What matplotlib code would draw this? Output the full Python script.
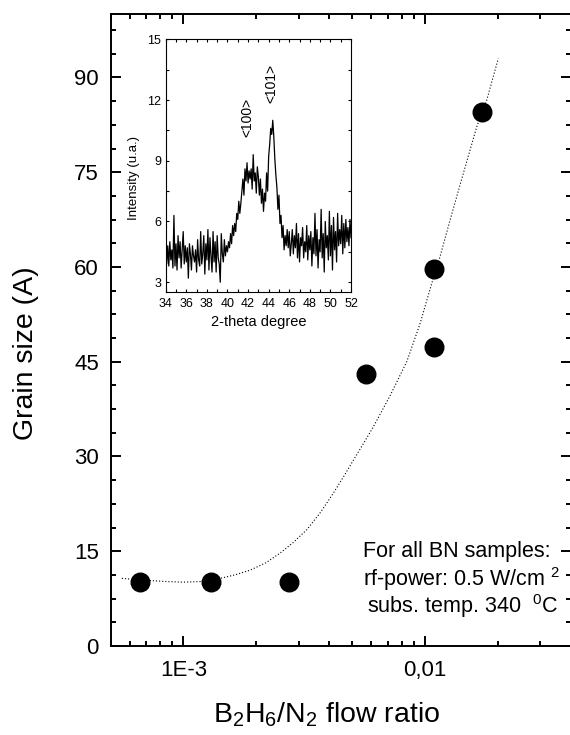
import numpy as np
import matplotlib
matplotlib.use('Agg')
import matplotlib.pyplot as plt
from matplotlib.ticker import FixedLocator, FixedFormatter, LogLocator, NullFormatter, MultipleLocator

plt.rcParams['font.family'] = ['Liberation Sans', 'DejaVu Sans']
plt.rcParams['mathtext.fontset'] = 'custom'
plt.rcParams['mathtext.rm'] = 'Liberation Sans'
plt.rcParams['mathtext.it'] = 'Liberation Sans'
plt.rcParams['mathtext.default'] = 'regular'

# grain size vs flow ratio
ratio = [6.58e-4, 1.30e-3, 2.73e-3, 5.70e-3, 1.093e-2, 1.093e-2, 1.726e-2]
grain = [10.1, 10.1, 10.1, 43.0, 59.6, 47.3, 84.6]

# dotted fit line
fit_x = [5.56e-4, 7.0e-4, 8.53e-4, 1.0e-3, 1.172e-3, 1.418e-3, 1.65e-3, 1.888e-3, 2.2e-3,
         2.512e-3, 2.85e-3, 3.24e-3, 3.7e-3, 4.174e-3, 4.6e-3, 5.05e-3, 5.55e-3, 6.11e-3,
         7.16e-3, 8.40e-3, 9.53e-3, 1.066e-2, 1.153e-2, 1.269e-2, 1.440e-2, 1.637e-2,
         1.800e-2, 2.010e-2]
fit_y = [10.7, 10.4, 10.2, 10.1, 10.2, 10.7, 11.3, 12.0, 13.2,
         14.7, 16.4, 18.4, 21.2, 24.2, 26.8, 29.4, 32.0, 34.7,
         39.6, 45.0, 51.0, 57.4, 61.6, 67.4, 74.8, 82.2,
         86.4, 93.0]

# inset XRD spectrum, 34..52 deg step 0.1
theta = np.round(np.arange(34.0, 52.01, 0.1), 1)
intensity = [
    5.7, 3.9, 4.8, 3.8, 5.0, 4.1, 4.6, 3.7, 6.3, 3.8,
    4.9, 3.6, 5.3, 4.2, 5.0, 3.7, 4.6, 5.5, 3.9, 4.8,
    4.0, 4.7, 3.2, 4.9, 4.4, 3.6, 4.8, 4.3, 4.0, 4.6,
    3.5, 5.1, 4.1, 3.8, 5.5, 3.9, 4.4, 5.3, 3.4, 4.9,
    4.1, 5.6, 3.6, 5.2, 4.3, 3.5, 5.5, 4.0, 5.0, 3.5,
    5.3, 4.2, 3.9, 3.0, 5.4, 4.4, 4.0, 5.1, 4.3, 4.8,
    4.5, 5.0, 4.7, 5.4, 4.9, 5.8, 5.3, 5.9, 5.5, 6.4,
    6.1, 7.0, 6.4, 6.9, 7.5, 8.1, 7.3, 8.6, 8.0, 8.9,
    7.9, 8.5, 8.1, 8.6, 7.6, 9.3, 8.0, 8.4, 7.4, 8.7,
    8.2, 7.3, 8.1, 6.9, 7.6, 6.5, 7.4, 7.0, 8.4, 7.5,
    9.2, 9.8, 10.6, 10.3, 11.0, 10.2, 9.1, 8.3, 7.7, 6.6,
    7.3, 5.9, 6.3, 5.2, 5.8, 4.6, 5.3, 4.8, 5.6, 4.7,
    5.5, 4.3, 4.9, 5.6, 4.4, 5.3, 4.7, 5.9, 4.2, 5.4,
    4.0, 5.2, 4.8, 5.7, 4.2, 5.0, 4.5, 5.8, 4.1, 5.3,
    4.6, 5.5, 3.8, 5.2, 4.4, 6.4, 4.3, 5.6, 3.7, 5.1,
    4.5, 6.6, 4.2, 5.4, 3.5, 6.0, 4.7, 5.3, 4.1, 6.5,
    4.3, 5.8, 3.6, 6.2, 4.6, 5.5, 4.0, 6.4, 4.8, 5.6,
    4.9, 6.3, 4.4, 5.9, 4.7, 6.1, 5.0, 5.7, 4.8, 6.1,
    5.2]

fig = plt.figure(figsize=(5.7, 7.35), dpi=100)
ax = fig.add_axes([0.1942, 0.1211, 0.8067, 0.8595])

ax.plot(fit_x, fit_y, color='black', lw=0.8, linestyle=(0, (1, 1.8)), zorder=2)
ax.plot(ratio, grain, 'o', color='black', ms=13.4, zorder=3)

ax.set_xscale('log')
ax.set_xlim(5e-4, 0.04)
ax.set_ylim(0, 100)
ax.xaxis.set_major_locator(FixedLocator([1e-3, 1e-2]))
ax.xaxis.set_major_formatter(FixedFormatter(['1E-3', '0,01']))
ax.xaxis.set_minor_locator(LogLocator(base=10, subs=np.arange(2, 10), numticks=20))
ax.xaxis.set_minor_formatter(NullFormatter())
ax.yaxis.set_major_locator(MultipleLocator(15))
ax.yaxis.set_minor_locator(MultipleLocator(3.75))

for s in ax.spines.values():
    s.set_linewidth(1.4)
ax.spines['right'].set_visible(False)
ax.tick_params(which='both', direction='in', top=True, right=True, width=1.4)
ax.tick_params(which='major', length=7.2, labelsize=16)
ax.tick_params(which='minor', length=3.6)
ax.tick_params(axis='x', which='major', pad=10)
ax.tick_params(axis='y', which='major', pad=8.5)

ax.set_xlabel('B$_2$H$_6$/N$_2$ flow ratio', fontsize=20.5)
ax.xaxis.label.set_va('baseline')
ax.xaxis.set_label_coords(0.469, -0.1214)
ax.set_ylabel('Grain size (A)', fontsize=20.5)
ax.yaxis.set_label_coords(-0.155, 0.463)

def px(x, y):
    # figure pixel -> axes fraction
    return ((x - 110.7) / 459.8, (646 - y) / 631.7)

ax.text(*px(363, 557.3), 'For all BN samples:', fontsize=15.5, transform=ax.transAxes)
ax.text(*px(363, 585.7), 'rf-power: 0.5 W/cm $^{2}$', fontsize=15.5, transform=ax.transAxes)
ax.text(*px(367, 613.3), 'subs. temp. 340  $^{0}$C', fontsize=15.5, transform=ax.transAxes)

# inset
ins = fig.add_axes([0.2907, 0.6023, 0.3251, 0.3442])
ins.plot(theta, intensity, color='black', lw=0.9)
ins.set_xlim(34, 52)
ins.set_ylim(2.5, 15)
ins.xaxis.set_major_locator(MultipleLocator(2))
ins.xaxis.set_minor_locator(MultipleLocator(1))
ins.yaxis.set_major_locator(MultipleLocator(3))
ins.yaxis.set_minor_locator(MultipleLocator(1.5))
for s in ins.spines.values():
    s.set_linewidth(0.8)
ins.tick_params(which='both', direction='in', top=True, right=True, width=0.8, labelsize=9)
ins.tick_params(which='major', length=2.5)
ins.tick_params(which='minor', length=2.0)
ins.tick_params(axis='x', pad=4)
ins.tick_params(axis='y', pad=3.4)
ins.set_xlabel('2-theta degree', fontsize=10.5)
ins.set_ylabel('Intensity (u.a.)', fontsize=9.5)
ins.yaxis.set_label_coords(-0.14, 0.45)
ins.text(41.9, 11.16, '<100>', rotation=90, ha='center', va='center', fontsize=10)
ins.text(44.3, 12.84, '<101>', rotation=90, ha='center', va='center', fontsize=10)

fig.savefig('out.png', dpi=100)
